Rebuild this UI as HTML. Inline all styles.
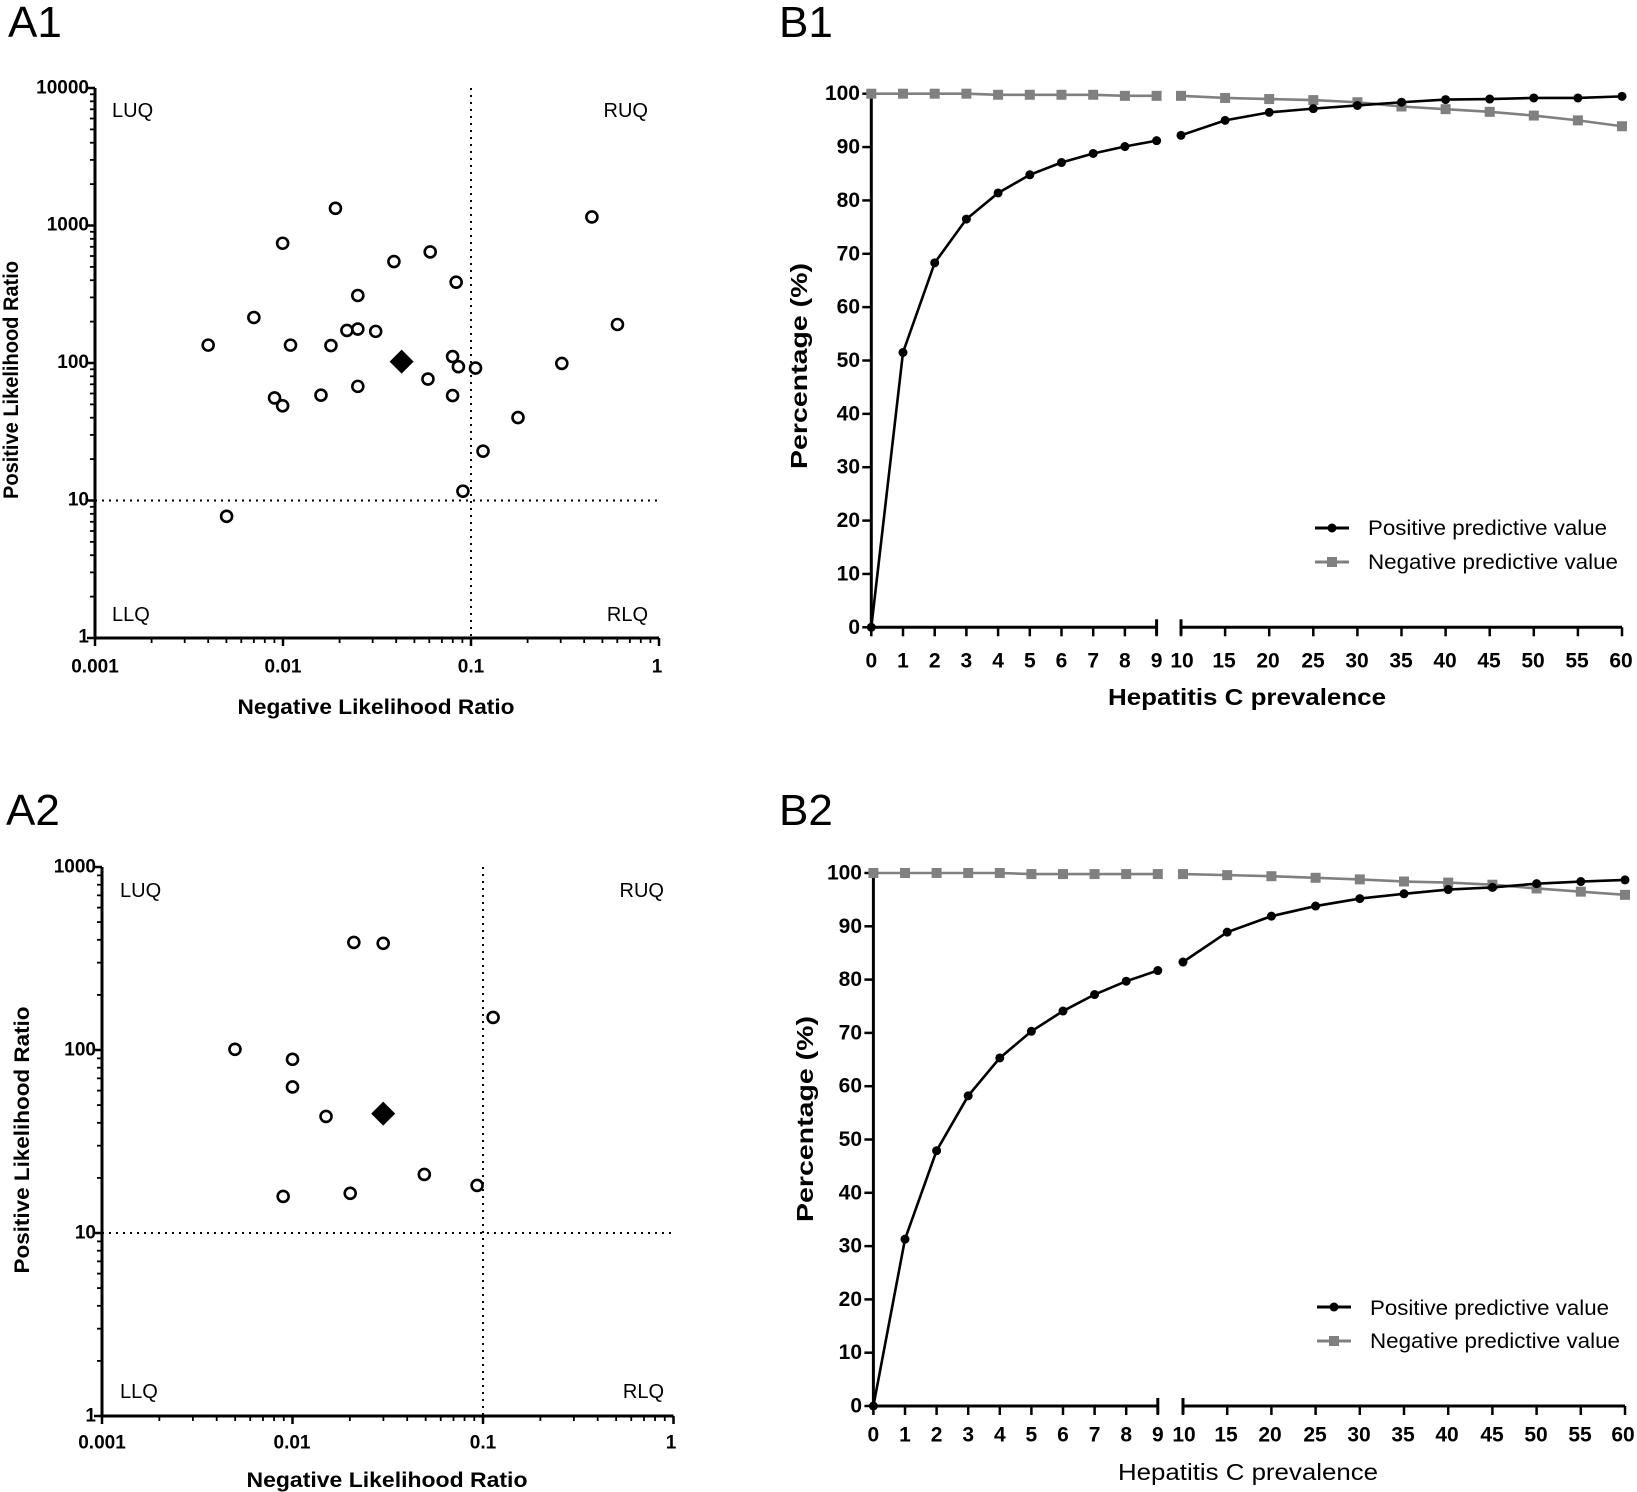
<!DOCTYPE html>
<html><head><meta charset="utf-8"><style>
html,body{margin:0;padding:0;background:#fff;}
svg{display:block;font-family:"Liberation Sans",Arial,sans-serif;}
.tk{font-weight:bold;font-size:19px;}
.q{font-size:20px;}
.al{font-weight:bold;font-size:21px;}
.ti{font-size:44px;}
.lg{font-size:21px;}
</style></head><body>
<svg id="s" width="1637" height="1492" viewBox="0 0 1637 1492" xmlns="http://www.w3.org/2000/svg">
<rect width="1637" height="1492" fill="#fff"/>
<g id="g"></g>
<text class="ti" x="8" y="37">A1</text>
<text class="ti" x="779" y="37">B1</text>
<text class="ti" x="6" y="825">A2</text>
<text class="ti" x="779" y="825">B2</text>
<!-- A1 text -->
<g class="tk" text-anchor="end" dominant-baseline="central">
<text x="89" y="88">10000</text><text x="89" y="225">1000</text><text x="89" y="362.5">100</text><text x="89" y="500">10</text><text x="89" y="637">1</text>
</g>
<g class="tk" text-anchor="middle" dominant-baseline="central">
<text x="95" y="667">0.001</text><text x="283" y="667">0.01</text><text x="471" y="667">0.1</text><text x="657" y="667">1</text>
</g>
<g class="q">
<text x="112" y="117">LUQ</text><text x="648" y="117" text-anchor="end">RUQ</text>
<text x="112" y="621">LLQ</text><text x="648" y="621" text-anchor="end">RLQ</text>
</g>
<text class="al" x="376" y="714" text-anchor="middle" textLength="277" lengthAdjust="spacingAndGlyphs">Negative Likelihood Ratio</text>
<text class="al" transform="translate(18,380) rotate(-90)" text-anchor="middle" textLength="238" lengthAdjust="spacingAndGlyphs">Positive Likelihood Ratio</text>
<!-- A2 text -->
<g class="tk" text-anchor="end" dominant-baseline="central">
<text x="96" y="867">1000</text><text x="96" y="1050">100</text><text x="96" y="1233">10</text><text x="96" y="1416">1</text>
</g>
<g class="tk" text-anchor="middle" dominant-baseline="central">
<text x="102" y="1443">0.001</text><text x="292" y="1443">0.01</text><text x="483" y="1443">0.1</text><text x="671" y="1443">1</text>
</g>
<g class="q">
<text x="120" y="897">LUQ</text><text x="664" y="897" text-anchor="end">RUQ</text>
<text x="120" y="1398">LLQ</text><text x="664" y="1398" text-anchor="end">RLQ</text>
</g>
<text class="al" x="387" y="1487" text-anchor="middle" textLength="281" lengthAdjust="spacingAndGlyphs">Negative Likelihood Ratio</text>
<text class="al" transform="translate(29,1140) rotate(-90)" text-anchor="middle" textLength="267" lengthAdjust="spacingAndGlyphs">Positive Likelihood Ratio</text>
<!-- B1 text -->
<g class="tk" text-anchor="end" dominant-baseline="central" style="font-size:21px">
<text x="860" y="627.3">0</text><text x="860" y="574">10</text><text x="860" y="520.6">20</text><text x="860" y="467.2">30</text><text x="860" y="413.9">40</text><text x="860" y="360.5">50</text><text x="860" y="307.1">60</text><text x="860" y="253.8">70</text><text x="860" y="200.4">80</text><text x="860" y="147">90</text><text x="860" y="93.7">100</text>
</g>
<g class="tk" text-anchor="middle" dominant-baseline="central" style="font-size:21px">
<text x="871.3" y="661">0</text><text x="903" y="661">1</text><text x="934.7" y="661">2</text><text x="966.4" y="661">3</text><text x="998.1" y="661">4</text><text x="1029.8" y="661">5</text><text x="1061.5" y="661">6</text><text x="1093.2" y="661">7</text><text x="1124.9" y="661">8</text><text x="1156.6" y="661">9</text>
<text x="1182" y="661">10</text><text x="1224" y="661">15</text><text x="1268" y="661">20</text><text x="1313" y="661">25</text><text x="1357" y="661">30</text><text x="1401" y="661">35</text><text x="1445" y="661">40</text><text x="1489" y="661">45</text><text x="1533" y="661">50</text><text x="1577" y="661">55</text><text x="1621" y="661">60</text>
</g>
<text class="al" x="1247" y="705" text-anchor="middle" textLength="278" lengthAdjust="spacingAndGlyphs" style="font-size:23px">Hepatitis C prevalence</text>
<text class="al" transform="translate(807,366) rotate(-90)" text-anchor="middle" textLength="206" lengthAdjust="spacingAndGlyphs" style="font-size:23px">Percentage (%)</text>
<text class="lg" x="1368" y="535" textLength="239" lengthAdjust="spacingAndGlyphs">Positive predictive value</text>
<text class="lg" x="1368" y="569" textLength="250" lengthAdjust="spacingAndGlyphs">Negative predictive value</text>
<!-- B2 text -->
<g class="tk" text-anchor="end" dominant-baseline="central" style="font-size:21px">
<text x="862" y="1406">0</text><text x="862" y="1352.7">10</text><text x="862" y="1299.4">20</text><text x="862" y="1246.1">30</text><text x="862" y="1192.8">40</text><text x="862" y="1139.5">50</text><text x="862" y="1086.2">60</text><text x="862" y="1032.9">70</text><text x="862" y="979.6">80</text><text x="862" y="926.3">90</text><text x="862" y="873">100</text>
</g>
<g class="tk" text-anchor="middle" dominant-baseline="central" style="font-size:21px">
<text x="873.4" y="1435">0</text><text x="905" y="1435">1</text><text x="936.6" y="1435">2</text><text x="968.2" y="1435">3</text><text x="999.8" y="1435">4</text><text x="1031.4" y="1435">5</text><text x="1063" y="1435">6</text><text x="1094.6" y="1435">7</text><text x="1126.2" y="1435">8</text><text x="1157.8" y="1435">9</text>
<text x="1184" y="1435">10</text><text x="1226" y="1435">15</text><text x="1270" y="1435">20</text><text x="1315" y="1435">25</text><text x="1359" y="1435">30</text><text x="1403" y="1435">35</text><text x="1447" y="1435">40</text><text x="1492" y="1435">45</text><text x="1536" y="1435">50</text><text x="1580" y="1435">55</text><text x="1623" y="1435">60</text>
</g>
<text x="1248" y="1480" text-anchor="middle" textLength="260" lengthAdjust="spacingAndGlyphs" style="font-size:23px">Hepatitis C prevalence</text>
<text class="al" transform="translate(813,1119) rotate(-90)" text-anchor="middle" textLength="206" lengthAdjust="spacingAndGlyphs" style="font-size:23px">Percentage (%)</text>
<text class="lg" x="1370" y="1315" textLength="239" lengthAdjust="spacingAndGlyphs">Positive predictive value</text>
<text class="lg" x="1370" y="1348" textLength="250" lengthAdjust="spacingAndGlyphs">Negative predictive value</text>
</svg>
<script>
var NS="http://www.w3.org/2000/svg",G=document.getElementById("g");
function el(t,a){var e=document.createElementNS(NS,t);for(var k in a)e.setAttribute(k,a[k]);G.appendChild(e);return e;}
function ln(x1,y1,x2,y2,w,c,d){var a={x1:x1,y1:y1,x2:x2,y2:y2,stroke:c||"#000","stroke-width":w||2};if(d)a["stroke-dasharray"]=d;el("line",a);}
function logPanel(o){
  var X=function(l){return o.x0+(l-o.lx0)*o.dx;},Y=function(l){return o.y0-(l-o.ly0)*o.dy;};
  var xl=X(o.lx1),yt=Y(o.ly1);
  ln(X(-1),yt,X(-1),o.y0,2,"#000","2,5");
  ln(o.x0,Y(1),xl,Y(1),2,"#000","2,5");
  ln(o.x0,o.y0+1,o.x0,yt,3);ln(o.x0-1,o.y0,xl,o.y0,3);
  for(var d=o.ly0;d<=o.ly1;d++){ln(o.x0-8,Y(d),o.x0,Y(d),2.5);
    if(d<o.ly1)for(var m=2;m<10;m++){var yy=Y(d+Math.log10(m));ln(o.x0-5,yy,o.x0,yy,1.8);}}
  for(var d=o.lx0;d<=o.lx1;d++){ln(X(d),o.y0,X(d),o.y0+8,2.5);
    if(d<o.lx1)for(var m=2;m<10;m++){var xx=X(d+Math.log10(m));ln(xx,o.y0,xx,o.y0+5,1.8);}}
  o.pts.forEach(function(p){el("circle",{cx:X(p[0]),cy:Y(p[1]),r:5.5,fill:"#fff",stroke:"#000","stroke-width":2.6});});
  var cx=X(o.dm[0]),cy=Y(o.dm[1]),s=12;
  el("polygon",{points:(cx)+","+(cy-s)+" "+(cx+s)+","+cy+" "+cx+","+(cy+s)+" "+(cx-s)+","+cy,fill:"#000"});
}
logPanel({x0:95,lx0:-3,lx1:0,dx:188,y0:638,ly0:0,ly1:4,dy:137.5,dm:[-1.369,2.010],pts:[
[-2.398,2.130],[-2.300,0.885],[-2.155,2.331],[-2.045,1.746],[-2.002,1.689],[-2.002,2.871],[-1.960,2.130],[-1.798,1.766],[-1.745,2.127],[-1.721,3.125],[-1.660,2.237],[-1.602,2.247],[-1.602,2.491],[-1.602,1.830],[-1.507,2.230],[-1.410,2.738],[-1.229,1.883],[-1.217,2.808],[-1.098,2.047],[-1.098,1.763],[-1.079,2.588],[-1.067,1.973],[-1.043,1.068],[-0.976,1.963],[-0.936,1.359],[-0.750,1.603],[-0.517,1.997],[-0.357,3.062],[-0.221,2.280]]});
logPanel({x0:102,lx0:-3,lx1:0,dx:190.5,y0:1416,ly0:0,ly1:3,dy:183,dm:[-1.524,1.652],pts:[
[-2.302,2.004],[-2.0,1.949],[-2.0,1.798],[-2.049,1.200],[-1.824,1.637],[-1.697,1.217],[-1.678,2.588],[-1.524,2.583],[-1.308,1.320],[-1.031,1.260],[-0.947,2.178]]});
function linPanel(o){
  var X=function(v){return v<=9?o.x0+v*o.u:o.x10+(v-10)*o.u5/5;},Y=function(v){return o.y0-v*o.dy;};
  ln(o.x0,o.y0+1,o.x0,Y(100),3);
  ln(o.x0-1,o.y0,X(9),o.y0,3);ln(X(9),o.y0-8,X(9),o.y0+8,3);
  ln(o.x10,o.y0-8,o.x10,o.y0+8,3);ln(o.x10,o.y0,X(60),o.y0,3);
  for(var v=0;v<=100;v+=10)ln(o.x0-9,Y(v),o.x0,Y(v),2.5);
  var xs=[0,1,2,3,4,5,6,7,8,9,10,15,20,25,30,35,40,45,50,55,60];
  xs.forEach(function(v){ln(X(v),o.y0,X(v),o.y0+9,2.5);});
  function series(vals,col,sq){
    var a=xs.slice(0,10),b=xs.slice(10);
    [a,b].forEach(function(seg,si){var p=seg.map(function(v,i){return X(v)+","+Y(vals[si?i+10:i]);}).join(" ");
      el("polyline",{points:p,fill:"none",stroke:col,"stroke-width":2.6});});
    xs.forEach(function(v,i){var cx=X(v),cy=Y(vals[i]);
      if(sq)el("rect",{x:cx-5,y:cy-5,width:10,height:10,fill:col});else el("circle",{cx:cx,cy:cy,r:4.5,fill:col});});
  }
  series(o.npv,"#808080",1);series(o.ppv,"#000",0);
  ln(o.lx,o.ly1,o.lx+34,o.ly1,3);el("circle",{cx:o.lx+17,cy:o.ly1,r:4.5,fill:"#000"});
  ln(o.lx,o.ly2,o.lx+34,o.ly2,3,"#808080");el("rect",{x:o.lx+12,y:o.ly2-5,width:10,height:10,fill:"#808080"});
}
linPanel({x0:871.3,u:31.7,x10:1181,u5:44.1,y0:627.3,dy:5.336,lx:1315,ly1:528,ly2:562,
 ppv:[0,51.5,68.3,76.5,81.4,84.8,87.1,88.8,90.1,91.2,92.2,95.0,96.5,97.2,97.8,98.4,98.9,99.0,99.2,99.2,99.5],
 npv:[100,100,100,100,99.8,99.8,99.8,99.8,99.6,99.6,99.6,99.2,99.0,98.8,98.4,97.6,97.1,96.6,95.9,95.0,93.9]});
linPanel({x0:873.4,u:31.6,x10:1183,u5:44.2,y0:1406,dy:5.33,lx:1317,ly1:1307,ly2:1341,
 ppv:[0,31.3,47.9,58.2,65.3,70.3,74.1,77.2,79.7,81.7,83.3,88.9,91.9,93.8,95.2,96.1,96.9,97.3,98.0,98.4,98.7],
 npv:[100,100,100,100,100,99.8,99.8,99.8,99.8,99.8,99.8,99.6,99.4,99.1,98.8,98.4,98.2,97.8,97.1,96.5,95.9]});
</script>
</body></html>
